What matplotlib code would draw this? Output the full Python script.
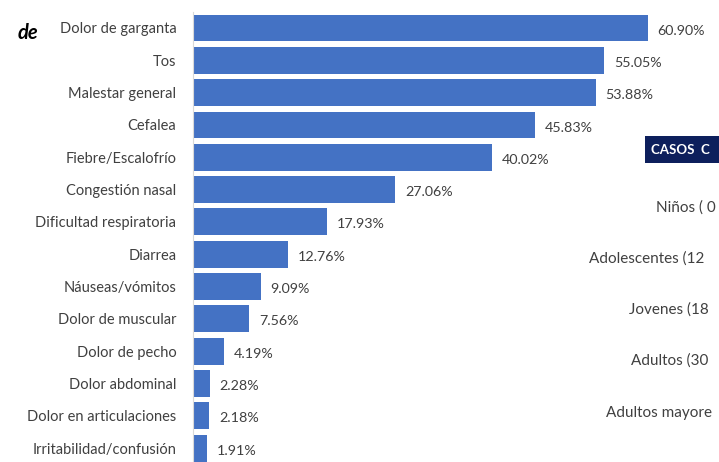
import matplotlib.pyplot as plt
from matplotlib.patches import Rectangle

sintomas = ["Dolor de garganta", "Tos", "Malestar general", "Cefalea",
            "Fiebre/Escalofrío", "Congestión nasal", "Dificultad respiratoria",
            "Diarrea", "Náuseas/vómitos", "Dolor de muscular", "Dolor de pecho",
            "Dolor abdominal", "Dolor en articulaciones", "Irritabilidad/confusión"]
porcentajes = [60.90, 55.05, 53.88, 45.83, 40.02, 27.06, 17.93,
               12.76, 9.09, 7.56, 4.19, 2.28, 2.18, 1.91]

grupos_edad = ["Niños ( 0", "Adolescentes (12", "Jovenes (18",
               "Adultos (30", "Adultos mayore"]

W, H = 719, 462
fig = plt.figure(figsize=(W / 100, H / 100), dpi=100)
plt.rcParams['font.family'] = ['Lato', 'DejaVu Sans']

ax = fig.add_axes([193 / W, 0, (W - 193) / W, 450 / H])
ypos = list(range(len(sintomas)))
ax.barh(ypos, porcentajes, height=0.83, color='#4472C4')
ax.set_xlim(0, 70.4)
ax.set_ylim(13.43, -0.495)
ax.set_yticks(ypos)
ax.set_yticklabels(sintomas, fontsize=10.5, color='#404040')
ax.tick_params(axis='y', length=0, pad=12)
ax.set_xticks([])
for s in ['top', 'right', 'bottom']:
    ax.spines[s].set_visible(False)
ax.spines['left'].set_color('#D9D9D9')

for y, v in zip(ypos, porcentajes):
    ax.text(v + 1.3, y + 0.08, f"{v:.2f}%", va='center', ha='left',
            fontsize=10.3, color='#404040')

fig.text(18 / W, 1 - 33 / H, "de", fontsize=14.5, fontweight='bold',
         fontstyle='italic', color='black', va='center')

# recuadro del segundo gráfico (cortado en el borde)
fig.patches.append(Rectangle((645 / W, 1 - 163 / H), 74 / W, 27 / H,
                             transform=fig.transFigure, fc='#0D1F5C', ec='none'))
fig.text(651 / W, 1 - 150 / H, "CASOS  C", fontsize=9.5, fontweight='bold',
         color='white', va='center', ha='left')

xs = [656, 589, 629, 631, 606]
ys = [208, 259, 310, 361, 413]
for g, x, y in zip(grupos_edad, xs, ys):
    fig.text(x / W, 1 - y / H, g, fontsize=11, color='#404040',
             va='center', ha='left')

plt.savefig("out.png", dpi=100)
